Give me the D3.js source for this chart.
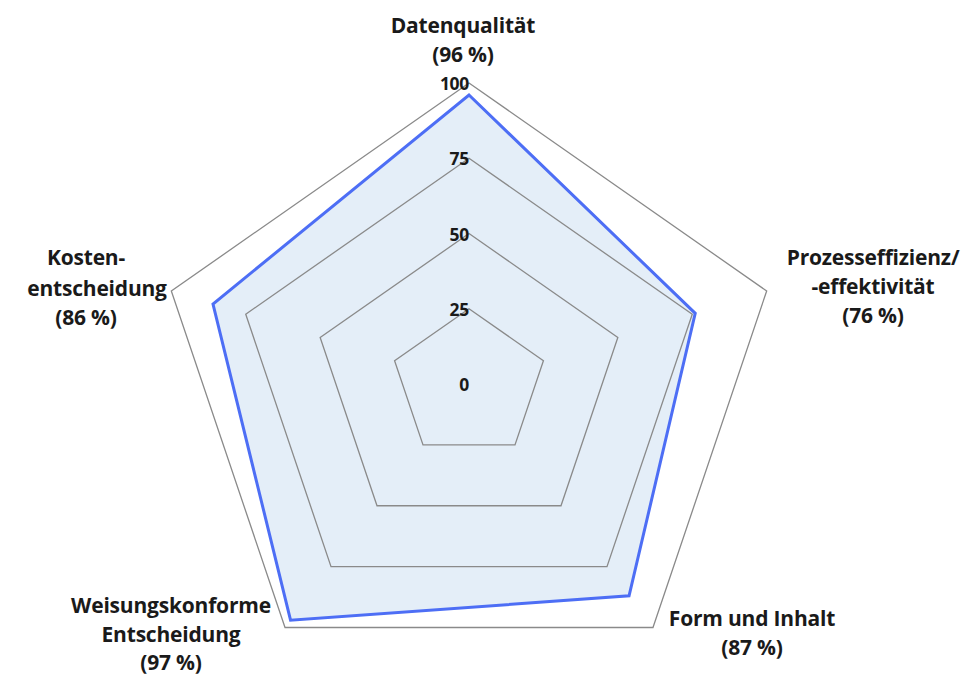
<!DOCTYPE html>
<html>
<head>
<meta charset="utf-8">
<script src="https://cdn.jsdelivr.net/npm/d3@7"></script>
<style>
  body { margin: 0; background: #fff; }
  text { font-family: "Open Sans", Lato, sans-serif; font-weight: bold; fill: #1a1a1a; }
</style>
</head>
<body>
<div id="chart"></div>
<script>
// data
const categories = ['Datenqualität', 'Prozesseffizienz/', 'Form und Inhalt', 'Weisungskonforme', 'Kosten-'];
const labelLines = [
  ['Datenqualität', '(96 %)'],
  ['Prozesseffizienz/', '-effektivität', '(76 %)'],
  ['Form und Inhalt', '(87 %)'],
  ['Weisungskonforme', 'Entscheidung', '(97 %)'],
  ['Kosten-', 'entscheidung', '(86 %)']
];
const values = [96, 76, 87, 97, 86];
const ticks = [0, 25, 50, 75, 100];

const width = 968, height = 678;
const cx = 469, cy = 384;
const rx = 313, ry = 301; // chart is a bit stretched horizontally

// label placement: [center x, baseline]
const labelPos = [
  [[463, 33], [463, 62]],
  [[873, 265], [873, 294], [873, 323]],
  [[752, 626], [752, 655]],
  [[171, 613], [171, 642], [171, 670]],
  [[86, 265], [97, 296], [86, 325]]
];

const svg = d3.select('#chart').append('svg')
  .attr('width', width)
  .attr('height', height);

const r = d3.scaleLinear().domain([0, 100]).range([0, 1]);
const angle = d3.scalePoint().domain(d3.range(categories.length + 1)).range([0, 2 * Math.PI]);

const pt = (i, v) => {
  const a = angle(i);
  return [cx + rx * r(v) * Math.sin(a), cy - ry * r(v) * Math.cos(a)];
};

const line = d3.line().curve(d3.curveLinearClosed);

// series fill first so grid sits on top like excel
svg.append('path')
  .attr('d', line(values.map((v, i) => pt(i, v))))
  .attr('fill', '#e4eef8')
  .attr('stroke', 'none');

// grid rings
svg.append('g').selectAll('path')
  .data(ticks.filter(t => t > 0))
  .join('path')
  .attr('d', t => line(categories.map((c, i) => pt(i, t))))
  .attr('fill', 'none')
  .attr('stroke', '#8a8a8a')
  .attr('stroke-width', 1.3);

// series outline
svg.append('path')
  .attr('d', line(values.map((v, i) => pt(i, v))))
  .attr('fill', 'none')
  .attr('stroke', '#4d6ef5')
  .attr('stroke-width', 3)
  .attr('stroke-linejoin', 'miter');

// tick labels
svg.append('g').selectAll('text')
  .data(ticks)
  .join('text')
  .attr('x', cx)
  .attr('y', t => pt(0, t)[1] + 7)
  .attr('text-anchor', 'end')
  .style('font-size', '17.5px')
  .style('letter-spacing', '-0.3px')
  .text(t => t);

// category labels
const lab = svg.append('g').selectAll('text')
  .data(labelLines)
  .join('text')
  .style('font-size', '21px')
  .style('letter-spacing', '-0.2px')
  .attr('text-anchor', 'middle');

lab.selectAll('tspan')
  .data((d, i) => d.map((s, j) => ({ s, p: labelPos[i][j] })))
  .join('tspan')
  .attr('x', d => d.p[0])
  .attr('y', d => d.p[1])
  .text(d => d.s);
</script>
</body>
</html>
